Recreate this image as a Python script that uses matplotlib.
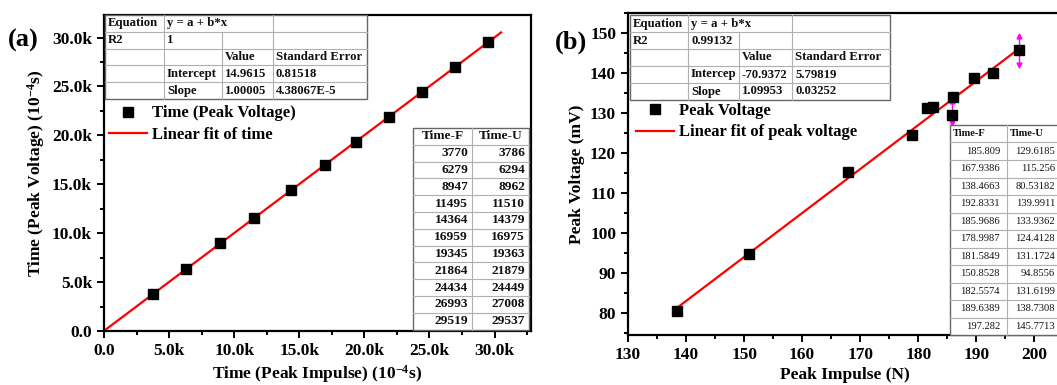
import numpy as np
import matplotlib
matplotlib.use("Agg")
import matplotlib.pyplot as plt
from matplotlib.ticker import MultipleLocator, FuncFormatter

plt.rcParams['font.family'] = ['Liberation Serif', 'DejaVu Serif']
plt.rcParams['font.weight'] = 'bold'
plt.rcParams['mathtext.fontset'] = 'custom'
plt.rcParams['mathtext.rm'] = 'Liberation Serif:bold'
plt.rcParams['mathtext.it'] = 'Liberation Serif:bold'
plt.rcParams['mathtext.bf'] = 'Liberation Serif:bold'

# ---- data panel (a) ----
time_f = [3770, 6279, 8947, 11495, 14364, 16959, 19345, 21864, 24434, 26993, 29519]
time_u = [3786, 6294, 8962, 11510, 14379, 16975, 19363, 21879, 24449, 27008, 29537]
fit_a = (14.9615, 1.00005)
fit_a_range = (0, 30500)

# ---- data panel (b) ----
imp_f = [185.809, 167.9386, 138.4663, 192.8331, 185.9686, 178.9987,
         181.5849, 150.8528, 182.5574, 189.6389, 197.282]
volt_u = [129.6185, 115.256, 80.53182, 139.9911, 133.9362, 124.4128,
          131.1724, 94.8556, 131.6199, 138.7308, 145.7713]
fit_b = (-70.9372, 1.09953)
err_x = [185.809, 197.282]
err_y = [129.6185, 145.7713]
err_up = [3.5, 3.5]
err_dn = [2.2, 3.8]

tab_a = [["Equation", "y = a + b*x", None, ""],
         ["R2", "1", "", ""],
         ["", "", "Value", "Standard Error"],
         ["", "Intercept", "14.9615", "0.81518"],
         ["", "Slope", "1.00005", "4.38067E-5"]]
tab_b = [["Equation", "y = a + b*x", None, ""],
         ["R2", "0.99132", "", ""],
         ["", "", "Value", "Standard Error"],
         ["", "Intercep", "-70.9372", "5.79819"],
         ["", "Slope", "1.09953", "0.03252"]]

W, H = 1057, 385
fig = plt.figure(figsize=(W / 100, H / 100), dpi=100)


def fx(x):
    return x / W


def fy(y):
    return 1 - y / H


def draw_table(cols, y0, rh, rows, fs, aligns, bold_rows=None, weight='bold',
               inner='#b0b0b0', outer='#666666', pad=4):
    x0, x1 = cols[0], cols[-1]
    y1 = y0 + rh * len(rows)
    fig.patches.append(plt.Rectangle((fx(x0), fy(y1)), fx(x1 - x0), (y1 - y0) / H,
                                     transform=fig.transFigure, facecolor='white',
                                     edgecolor=outer, lw=1.0, zorder=5))
    for i in range(1, len(rows)):
        yy = fy(y0 + rh * i)
        fig.add_artist(plt.Line2D([fx(x0), fx(x1)], [yy, yy], color=inner, lw=0.8, zorder=6))
    for r, row in enumerate(rows):
        ya, yb = fy(y0 + rh * r), fy(y0 + rh * (r + 1))
        for c in range(1, len(cols) - 1):
            if c < len(row) and row[c] is None:
                continue
            fig.add_artist(plt.Line2D([fx(cols[c]), fx(cols[c])], [ya, yb], color=inner,
                                      lw=0.8, zorder=6))
        for c, txt in enumerate(row):
            if not txt:
                continue
            al = aligns(r, c)
            if al == 'left':
                xt = cols[c] + 3
            elif al == 'right':
                xt = cols[c + 1] - pad
            else:
                xt = (cols[c] + cols[c + 1]) / 2
            w = weight if (bold_rows is None or r in bold_rows) else 'normal'
            fig.text(fx(xt), (ya + yb) / 2, txt, ha=al, va='center', fontsize=fs,
                     weight=w, zorder=7, color='#111111')


def style_axes(ax):
    for s in ax.spines.values():
        s.set_linewidth(1.6)
    ax.tick_params(which='both', direction='out', width=1.4, labelsize=12.5)
    ax.tick_params(which='major', length=5)
    ax.tick_params(which='minor', length=3)
    for lab in ax.get_xticklabels() + ax.get_yticklabels():
        lab.set_fontweight('bold')


kfmt = FuncFormatter(lambda v, p: "0.0" if v == 0 else f"{v / 1000:.1f}k")

# ---------------- panel (a) ----------------
axa = fig.add_axes([fx(104), fy(331), fx(531 - 104), (331 - 15) / H])
xs = np.array(fit_a_range)
axa.plot(xs, fit_a[0] + fit_a[1] * xs, color='red', lw=1.6, zorder=2,
         label='Linear fit of time')
axa.plot(time_f, time_u, 's', color='black', ms=6.5, zorder=3,
         label='Time (Peak Voltage)')
axa.set_xlim(0, 32800)
axa.set_ylim(0, 32300)
axa.xaxis.set_major_locator(MultipleLocator(5000))
axa.xaxis.set_minor_locator(MultipleLocator(2500))
axa.yaxis.set_major_locator(MultipleLocator(5000))
axa.yaxis.set_minor_locator(MultipleLocator(2500))
axa.xaxis.set_major_formatter(kfmt)
axa.yaxis.set_major_formatter(kfmt)
axa.set_xlabel(r"Time (Peak Impulse) (10$^{-4}$s)", fontsize=12.5, weight='bold', labelpad=3)
axa.set_ylabel(r"Time (Peak Voltage) (10$^{-4}$s)", fontsize=12.5, weight='bold', labelpad=4)
style_axes(axa)
handles, labels = axa.get_legend_handles_labels()
axa.legend(handles[::-1], labels[::-1], loc='upper left', bbox_to_anchor=(-0.005, 0.735),
           frameon=False, prop={'weight': 'bold', 'size': 12},
           handlelength=2.3, handletextpad=0.3, labelspacing=0.35, borderaxespad=0.0)
fig.text(fx(8), fy(40), "(a)", fontsize=19, weight='bold', va='center')

draw_table([105, 164, 222, 273, 367], 15, 16.8, tab_a, 9.2,
           lambda r, c: 'left')
tab_a2 = [["Time-F", "Time-U"]] + [[str(a), str(b)] for a, b in zip(time_f, time_u)]
draw_table([413, 472, 529], 128, 16.8, tab_a2, 9.6,
           lambda r, c: 'center' if r == 0 else 'right')

# ---------------- panel (b) ----------------
axb = fig.add_axes([fx(628), fy(335), fx(1061 - 628), (335 - 13) / H])
xb = np.array([min(imp_f), max(imp_f)])
axb.plot(xb, fit_b[0] + fit_b[1] * xb, color='red', lw=1.6, zorder=2,
         label='Linear fit of peak voltage')
axb.plot(imp_f, volt_u, 's', color='black', ms=6.5, zorder=3, label='Peak Voltage')
for x, y, up, dn in zip(err_x, err_y, err_up, err_dn):
    axb.plot([x, x], [y - dn, y + up], color='magenta', lw=1.0, zorder=2.5)
    axb.plot([x], [y + up], '^', color='magenta', ms=3.5, zorder=2.5)
    axb.plot([x], [y - dn], 'v', color='magenta', ms=3.5, zorder=2.5)
axb.set_xlim(130, 204.6)
axb.set_ylim(74.5, 155)
axb.xaxis.set_major_locator(MultipleLocator(10))
axb.xaxis.set_minor_locator(MultipleLocator(5))
axb.yaxis.set_major_locator(MultipleLocator(10))
axb.yaxis.set_minor_locator(MultipleLocator(5))
axb.set_xlabel("Peak Impulse (N)", fontsize=12.5, weight='bold', labelpad=3)
axb.set_ylabel("Peak Voltage (mV)", fontsize=12.5, weight='bold', labelpad=4)
style_axes(axb)
handles, labels = axb.get_legend_handles_labels()
axb.legend(handles[::-1], labels[::-1], loc='upper left', bbox_to_anchor=(0.0, 0.745),
           frameon=False, prop={'weight': 'bold', 'size': 12},
           handlelength=2.3, handletextpad=0.3, labelspacing=0.35, borderaxespad=0.05)
fig.text(fx(555), fy(42), "(b)", fontsize=19, weight='bold', va='center')

draw_table([630, 688, 739, 792, 890], 15, 17.0, tab_b, 9.2,
           lambda r, c: 'left')
tab_b2 = [["Time-F", "Time-U"]] + [[str(a), str(b)] for a, b in zip(imp_f, volt_u)]
draw_table([950, 1007, 1062], 125, 17.5, tab_b2, 7.6,
           lambda r, c: 'left' if r == 0 else 'right', bold_rows=[0], pad=7)

fig.savefig("out.png", dpi=100)
